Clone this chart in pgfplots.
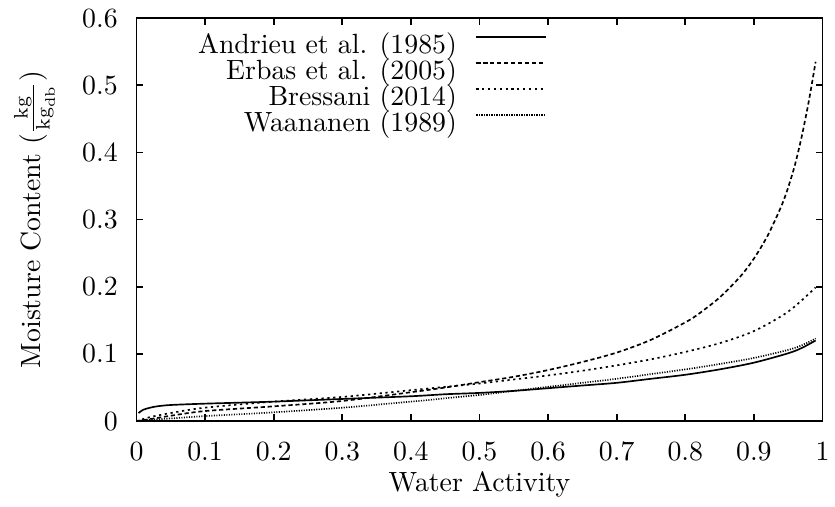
\documentclass[border=0pt]{standalone}
\usepackage{pgfplots}
\pgfplotsset{compat=1.18}
\pgfplotstableread{
aw mc
0.003 0.012
0.01 0.017
0.02 0.020
0.03 0.022
0.05 0.024
0.1 0.026
0.2 0.029
0.3 0.033
0.4 0.037
0.45 0.040
0.5 0.042
0.55 0.045
0.6 0.049
0.65 0.053
0.7 0.057
0.75 0.063
0.8 0.069
0.85 0.077
0.9 0.087
0.95 0.101
0.97 0.109
0.99 0.120
}\andrieu
\pgfplotstableread{
aw mc
0 0
0.02 0.003
0.05 0.008
0.1 0.015
0.2 0.022
0.3 0.030
0.4 0.043
0.45 0.050
0.5 0.058
0.55 0.066
0.6 0.076
0.65 0.088
0.7 0.102
0.75 0.121
0.8 0.147
0.82 0.160
0.85 0.184
0.88 0.215
0.9 0.242
0.92 0.276
0.94 0.320
0.95 0.348
0.96 0.382
0.97 0.425
0.98 0.476
0.99 0.535
}\erbas
\pgfplotstableread{
aw mc
0 0
0.02 0.006
0.05 0.012
0.1 0.020
0.2 0.029
0.3 0.036
0.4 0.046
0.45 0.051
0.5 0.056
0.55 0.062
0.6 0.068
0.65 0.075
0.7 0.083
0.75 0.092
0.8 0.103
0.85 0.116
0.9 0.134
0.95 0.163
0.99 0.199
}\bressani
\pgfplotstableread{
aw mc
0 0
0.02 0.002
0.05 0.004
0.1 0.0075
0.2 0.013
0.3 0.020
0.4 0.029
0.45 0.034
0.5 0.039
0.55 0.045
0.6 0.051
0.65 0.057
0.7 0.063
0.75 0.070
0.8 0.077
0.85 0.085
0.9 0.094
0.95 0.106
0.97 0.113
0.99 0.123
}\waananen
\begin{document}
\begin{tikzpicture}
\begin{axis}[
  scale only axis, width=246.8pt, height=145pt,
  xmin=0, xmax=1, ymin=0, ymax=0.6,
  xtick={0,0.1,0.2,0.3,0.4,0.5,0.6,0.7,0.8,0.9,1},
  ytick={0,0.1,0.2,0.3,0.4,0.5,0.6},
  tick align=inside, major tick length=2.5pt,
  axis line style={line width=0.7pt},
  every tick/.style={line width=0.6pt, black},
  xticklabel style={yshift=-4.2pt},
  yticklabel style={xshift=-3.2pt},
  xlabel={Water Activity},
  ylabel={Moisture Content $(\frac{\mathrm{kg}}{\mathrm{kg}_{\mathrm{db}}})$},
  xlabel style={at={(axis description cs:0.5,-0.156)}, anchor=center},
  ylabel style={at={(axis description cs:-0.1406,0.5)}, anchor=base},
  legend cell align=right, legend plot pos=right,
  legend image code/.code={\draw[#1] (0pt,3.85pt) -- (25pt,3.85pt);},
  legend style={at={(0.598,0.958)}, anchor=north east, draw=none, fill=none,
    inner sep=0pt, outer sep=0pt, column sep=6.7pt, row sep=0pt,
    nodes={inner sep=0pt, text height=6.8pt, text depth=2.5pt}},
  every axis plot/.append style={line width=0.6pt, black, smooth},
]
\addplot[solid] table[x=aw,y=mc]{\andrieu};
\addlegendentry{Andrieu et al. (1985)}
\addplot[dash pattern=on 1.5pt off 1pt] table[x=aw,y=mc]{\erbas};
\addlegendentry{Erbas et al. (2005)}
\addplot[dash pattern=on 0.8pt off 1.3pt] table[x=aw,y=mc]{\bressani};
\addlegendentry{Bressani (2014)}
\addplot[dash pattern=on 0.4pt off 0.5pt] table[x=aw,y=mc]{\waananen};
\addlegendentry{Waananen (1989)}
\end{axis}
\pgfresetboundingbox
\path[use as bounding box] (-49.1pt,-30.6pt) rectangle (251.3pt,151.5pt);
\end{tikzpicture}
\end{document}
